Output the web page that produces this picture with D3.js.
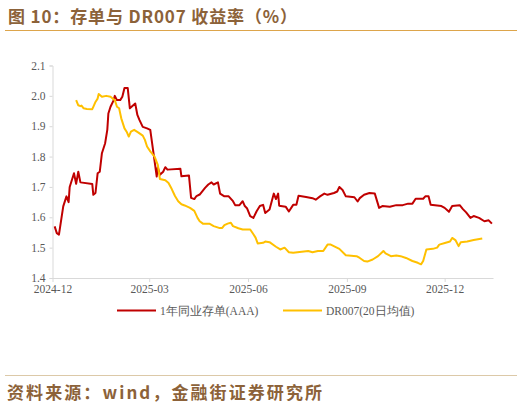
<!DOCTYPE html>
<html><head><meta charset="utf-8">
<script src="https://cdn.jsdelivr.net/npm/d3@7"></script>
<style>
body{margin:0;background:#fff;}
svg{display:block;}
</style></head>
<body>
<svg id="c" width="530" height="407"></svg>
<script>
const titleText = "图 10：存单与 DR007 收益率（%）";
const sourceText = "资料来源：wind，金融街证券研究所";
const seriesNames = ["1年同业存单(AAA)", "DR007(20日均值)"];
const yTicks = [1.4, 1.5, 1.6, 1.7, 1.8, 1.9, 2.0, 2.1];
const xTickLabels = ["2024-12", "2025-03", "2025-06", "2025-09", "2025-12"];

const ncdDates = ["2024-12-03","2024-12-05","2024-12-07","2024-12-11","2024-12-14","2024-12-16","2024-12-17","2024-12-21","2024-12-23","2024-12-25","2024-12-27",
"2025-01-07","2025-01-08","2025-01-10","2025-01-12","2025-01-14","2025-01-16","2025-01-19","2025-01-21","2025-01-22","2025-01-24","2025-01-27","2025-01-28","2025-01-30",
"2025-02-02","2025-02-04","2025-02-06","2025-02-09","2025-02-11","2025-02-16","2025-02-18","2025-02-20","2025-02-23","2025-02-27",
"2025-03-02","2025-03-05","2025-03-08","2025-03-09","2025-03-11","2025-03-14","2025-03-16","2025-03-18","2025-03-30","2025-03-31",
"2025-04-07","2025-04-09","2025-04-12","2025-04-14","2025-04-17","2025-04-22","2025-04-25","2025-04-28","2025-04-30",
"2025-05-04","2025-05-06","2025-05-10","2025-05-14","2025-05-18","2025-05-20","2025-05-24","2025-05-27","2025-05-29","2025-05-31",
"2025-06-03","2025-06-06","2025-06-09","2025-06-12","2025-06-15","2025-06-17","2025-06-21","2025-06-25","2025-06-27","2025-06-29","2025-06-30",
"2025-07-06","2025-07-09","2025-07-13","2025-07-16","2025-07-18","2025-07-25","2025-07-31",
"2025-08-03","2025-08-07","2025-08-11","2025-08-14","2025-08-20","2025-08-23","2025-08-25","2025-08-28","2025-08-31",
"2025-09-08","2025-09-11","2025-09-13","2025-09-17","2025-09-22","2025-09-27",
"2025-10-01","2025-10-04","2025-10-11","2025-10-17","2025-10-23","2025-10-28",
"2025-11-01","2025-11-04","2025-11-11","2025-11-13","2025-11-16","2025-11-18","2025-11-28",
"2025-12-01","2025-12-05","2025-12-08","2025-12-15","2025-12-18","2025-12-21","2025-12-25","2025-12-28",
"2026-01-02","2026-01-07","2026-01-11","2026-01-14"];
const ncdValues = [1.57,1.548,1.543,1.636,1.669,1.65,1.70,1.745,1.71,1.75,1.715,
1.71,1.674,1.68,1.745,1.75,1.811,1.844,1.888,1.942,1.964,1.986,2.0,1.986,
1.986,1.997,2.026,2.026,1.959,1.975,1.937,1.92,1.898,1.893,
1.888,1.811,1.734,1.765,1.74,1.75,1.765,1.757,1.76,1.735,
1.738,1.664,1.66,1.67,1.675,1.697,1.708,1.715,1.708,
1.715,1.678,1.669,1.669,1.653,1.64,1.64,1.653,1.637,1.63,
1.604,1.598,1.62,1.637,1.641,1.614,1.626,1.678,1.66,1.678,1.638,
1.635,1.619,1.641,1.641,1.671,1.667,1.663,
1.658,1.669,1.678,1.674,1.68,1.685,1.70,1.69,1.669,
1.666,1.652,1.663,1.674,1.68,1.678,
1.631,1.637,1.635,1.64,1.64,1.645,
1.645,1.661,1.661,1.669,1.669,1.641,1.637,
1.631,1.618,1.637,1.64,1.627,1.616,1.598,1.604,
1.598,1.587,1.59,1.579];

const drDates = ["2024-12-23","2024-12-25","2024-12-27","2024-12-28","2024-12-30",
"2025-01-02","2025-01-07","2025-01-08","2025-01-10","2025-01-12","2025-01-13","2025-01-16","2025-01-20","2025-01-24","2025-01-26","2025-01-28","2025-01-30",
"2025-02-01","2025-02-03","2025-02-06","2025-02-08","2025-02-10","2025-02-12","2025-02-15","2025-02-19","2025-02-23","2025-02-25","2025-02-27",
"2025-03-02","2025-03-06","2025-03-09","2025-03-11","2025-03-16","2025-03-19","2025-03-22","2025-03-25","2025-03-28","2025-03-31",
"2025-04-03","2025-04-08","2025-04-12","2025-04-15","2025-04-17","2025-04-20","2025-04-26","2025-04-30",
"2025-05-05","2025-05-08","2025-05-10","2025-05-13","2025-05-16","2025-05-18","2025-05-23","2025-05-27",
"2025-06-03","2025-06-06","2025-06-08","2025-06-10","2025-06-15","2025-06-17","2025-06-21","2025-06-27",
"2025-07-01","2025-07-05","2025-07-09","2025-07-13","2025-07-19","2025-07-27","2025-07-31",
"2025-08-05","2025-08-10","2025-08-14","2025-08-17","2025-08-25","2025-08-31",
"2025-09-10","2025-09-13","2025-09-17","2025-09-20","2025-09-25","2025-09-30",
"2025-10-05","2025-10-07","2025-10-12","2025-10-17","2025-10-21","2025-10-26",
"2025-11-01","2025-11-06","2025-11-09","2025-11-11","2025-11-14","2025-11-20","2025-11-24","2025-11-26",
"2025-12-02","2025-12-06","2025-12-08","2025-12-11","2025-12-14","2025-12-16","2025-12-22","2025-12-28",
"2026-01-05"];
const drValues = [1.986,1.969,1.966,1.968,1.959,
1.957,1.956,1.964,1.98,1.991,2.006,1.997,2.0,1.997,1.991,1.986,1.964,
1.959,1.926,1.893,1.882,1.866,1.882,1.888,1.879,1.869,1.855,1.833,
1.817,1.80,1.773,1.726,1.722,1.713,1.693,1.67,1.653,1.643,
1.639,1.631,1.621,1.598,1.587,1.579,1.579,1.571,
1.565,1.565,1.574,1.579,1.582,1.571,1.564,1.56,
1.56,1.544,1.533,1.514,1.516,1.52,1.518,1.503,
1.494,1.50,1.485,1.483,1.486,1.489,1.485,
1.489,1.489,1.51,1.51,1.496,1.475,
1.472,1.466,1.456,1.454,1.461,1.472,
1.489,1.481,1.472,1.474,1.472,1.466,
1.456,1.45,1.445,1.456,1.494,1.496,1.50,1.51,
1.516,1.52,1.532,1.525,1.505,1.518,1.52,1.525,
1.530];

const colors = ["#C00000", "#FFC000"];
const parse = d3.timeParse("%Y-%m-%d");
const ncd = ncdDates.map((d,i)=>({date:parse(d), v:ncdValues[i]}));
const dr = drDates.map((d,i)=>({date:parse(d), v:drValues[i]}));

const svg = d3.select("#c");
const brown = "#8C6239";
const serif = "'Liberation Serif','Times New Roman',serif";

// title
svg.append("text").attr("x",8).attr("y",22.5)
  .attr("font-family","'Noto Sans CJK SC',sans-serif").attr("font-weight","bold")
  .attr("font-size",17).attr("fill",brown)
  .attr("textLength",289).attr("lengthAdjust","spacing").text(titleText);
svg.append("line").attr("x1",5).attr("x2",517).attr("y1",30.5).attr("y2",30.5)
  .attr("stroke","#DDA54B").attr("stroke-width",1.2);

const x = d3.scaleTime().domain([parse("2024-12-01"), parse("2026-01-15")]).range([52.5, 493]);
const y = d3.scaleLinear().domain([1.4, 2.1]).range([278, 65.5]);

// y axis
const yAxis = d3.axisLeft(y).tickValues(yTicks).tickFormat(d3.format(".1f")).tickSize(3).tickPadding(4);
const gy = svg.append("g").attr("transform","translate(52.5,0)").call(yAxis);
gy.select(".domain").attr("stroke","#D9D9D9");
gy.selectAll(".tick line").attr("stroke","#D9D9D9");
gy.selectAll("text").attr("font-family",serif).attr("font-size",11.5).attr("fill","#595959");

// x axis
const xTickDates = xTickLabels.map(s=>parse(s+"-01"));
const xAxis = d3.axisBottom(x).tickValues(xTickDates).tickFormat((d,i)=>xTickLabels[i]).tickSize(4).tickSizeOuter(0).tickPadding(3);
const gx = svg.append("g").attr("transform","translate(0,278)").call(xAxis);
gx.select(".domain").attr("stroke","#D9D9D9");
gx.selectAll(".tick line").attr("stroke","#D9D9D9");
gx.selectAll("text").attr("font-family",serif).attr("font-size",11.5).attr("fill","#595959");

const line = d3.line().x(d=>x(d.date)).y(d=>y(d.v));
svg.append("path").datum(ncd).attr("d",line).attr("fill","none").attr("stroke",colors[0]).attr("stroke-width",2).attr("stroke-linejoin","round");
svg.append("path").datum(dr).attr("d",line).attr("fill","none").attr("stroke",colors[1]).attr("stroke-width",2).attr("stroke-linejoin","round");

// legend
const legX = [117, 283];
seriesNames.forEach((n,i)=>{
  svg.append("line").attr("x1",legX[i]).attr("x2",legX[i]+39).attr("y1",310.5).attr("y2",310.5)
    .attr("stroke",colors[i]).attr("stroke-width",2);
  svg.append("text").attr("x",legX[i]+43).attr("y",314.5)
    .attr("font-family",serif).attr("font-size",11.5).attr("fill","#595959").text(n);
});

// source
svg.append("line").attr("x1",5).attr("x2",517).attr("y1",375.5).attr("y2",375.5)
  .attr("stroke","#DCC9A8").attr("stroke-width",1);
svg.append("text").attr("x",7).attr("y",398.5)
  .attr("font-family","'Noto Sans CJK SC',sans-serif").attr("font-weight","bold")
  .attr("font-size",17).attr("fill",brown)
  .attr("textLength",315).attr("lengthAdjust","spacing").text(sourceText);
</script>
</body></html>
